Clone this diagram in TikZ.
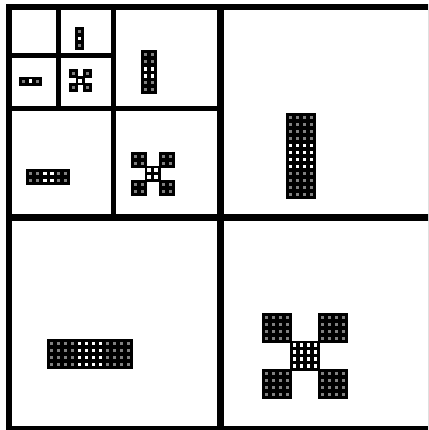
\documentclass[tikz,border=0pt]{standalone}
\usepackage{tikz}
\tikzset{
  frameline/.style={line width=6.5pt, draw=black},
  majorline/.style={line width=7pt, draw=black},
  minorline/.style={line width=5pt, draw=black},
  grayhole/.style={fill=black!50},
  whitehole/.style={fill=white},
  blockedge/.style={draw=black, line width=2pt},
}
% #1 x0, #2 y0, #3 cells per block side, #4 block column, #5 block row, #6 hole kind (g/w)
\newcommand{\drawpatblock}[6]{%
  \pgfmathsetmacro{\bx}{#1+#4*#3*7}%
  \pgfmathsetmacro{\by}{#2+#5*#3*7}%
  \fill[black] (\bx,\by) rectangle ++(#3*7,#3*7);
  \draw[blockedge] (\bx,\by) rectangle ++(#3*7,#3*7);
}
\newcommand{\drawpatholes}[6]{%
  \pgfmathsetmacro{\bx}{#1+#4*#3*7}%
  \pgfmathsetmacro{\by}{#2+#5*#3*7}%
  \foreach \i in {1,...,#3}{\foreach \j in {1,...,#3}{
    \if#6w
      \fill[whitehole] ({\bx+(\i-0.5)*7-1.8},{\by+(\j-0.5)*7-1.8}) rectangle ++(3.6,3.6);
    \else
      \fill[grayhole] ({\bx+(\i-0.5)*7-1.5},{\by+(\j-0.5)*7-1.5}) rectangle ++(3,3);
    \fi
  }}
}
\newcommand{\patblk}[6]{\drawpatblock{#1}{#2}{#3}{#4}{#5}{#6}}
\newcommand{\pathole}[6]{\drawpatholes{#1}{#2}{#3}{#4}{#5}{#6}}
\newcommand{\patvbar}[3]{%
  \patblk{#1}{#2}{#3}{0}{0}{g}\patblk{#1}{#2}{#3}{0}{1}{w}\patblk{#1}{#2}{#3}{0}{2}{g}%
  \pathole{#1}{#2}{#3}{0}{0}{g}\pathole{#1}{#2}{#3}{0}{1}{w}\pathole{#1}{#2}{#3}{0}{2}{g}}
\newcommand{\pathbar}[3]{%
  \patblk{#1}{#2}{#3}{0}{0}{g}\patblk{#1}{#2}{#3}{1}{0}{w}\patblk{#1}{#2}{#3}{2}{0}{g}%
  \pathole{#1}{#2}{#3}{0}{0}{g}\pathole{#1}{#2}{#3}{1}{0}{w}\pathole{#1}{#2}{#3}{2}{0}{g}}
\newcommand{\patcross}[3]{%
  \patblk{#1}{#2}{#3}{0}{0}{g}\patblk{#1}{#2}{#3}{2}{0}{g}\patblk{#1}{#2}{#3}{1}{1}{w}\patblk{#1}{#2}{#3}{0}{2}{g}\patblk{#1}{#2}{#3}{2}{2}{g}%
  \pathole{#1}{#2}{#3}{0}{0}{g}\pathole{#1}{#2}{#3}{2}{0}{g}\pathole{#1}{#2}{#3}{1}{1}{w}\pathole{#1}{#2}{#3}{0}{2}{g}\pathole{#1}{#2}{#3}{2}{2}{g}}
\begin{document}
\begin{tikzpicture}[x=1pt,y=-1pt]
\useasboundingbox (0,0) rectangle (428,430);
\fill[white] (0,0) rectangle (428,430);
\begin{scope}
\clip (0,0) rectangle (428,430);
% frame and subdivision lines
\draw[frameline] (9,7) rectangle (431.5,429);
\draw[majorline] (220,7) -- (220,429);
\draw[majorline] (9,217.5) -- (431.5,217.5);
\draw[minorline] (113,7) -- (113,217.5);
\draw[minorline] (9,109) -- (220,109);
\draw[minorline] (58,7) -- (58,109);
\draw[minorline] (9,56) -- (113,56);
\end{scope}
% level 1 patterns
\patvbar{287}{114}{4}
\pathbar{48}{340}{4}
\patcross{263}{313.5}{4}
% level 2 patterns
\patvbar{141.8}{51.5}{2}
\pathbar{27.3}{170.2}{2}
\patcross{131.5}{152.8}{2}
% level 3 patterns
\patvbar{76}{28.2}{1}
\pathbar{20}{77.8}{1}
\patcross{69.5}{70.5}{1}
\end{tikzpicture}
\end{document}
